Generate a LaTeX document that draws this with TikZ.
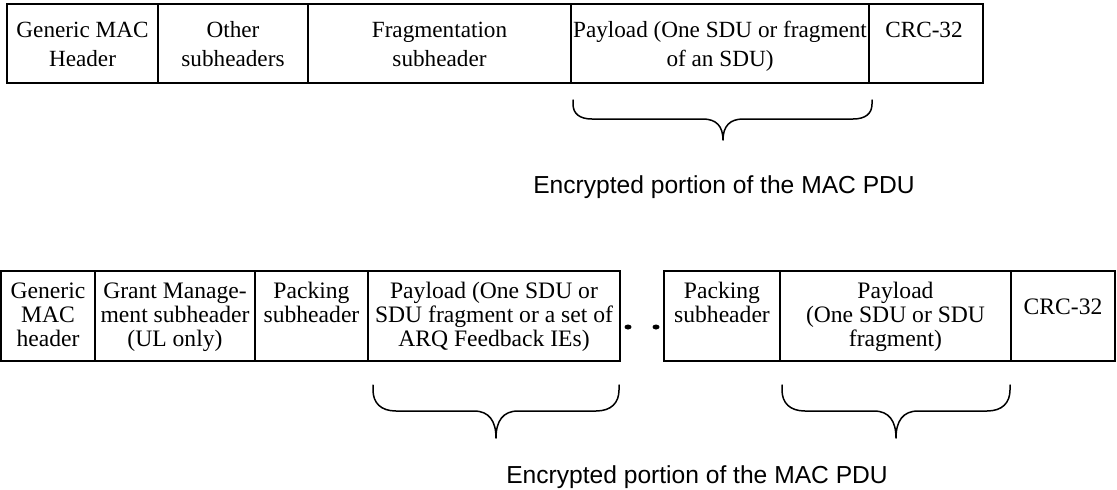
\documentclass[tikz,border=0pt]{standalone}
\usepackage{fontspec}
\setmainfont{Liberation Serif}
\newfontfamily\labelfont{Liberation Sans}
\begin{document}
\begin{tikzpicture}[x=1pt,y=-1pt,
  frame/.style={draw=black,line width=2.2pt},
  divider/.style={draw=black,line width=2pt},
  toptext/.style={anchor=north,inner sep=0pt,align=center,font=\fontsize{23.2}{29}\selectfont},
  bottext/.style={anchor=north,inner sep=0pt,align=center,font=\fontsize{23.6}{24}\selectfont},
  lbl/.style={anchor=base,inner sep=0pt,font=\labelfont\fontsize{24.6}{28}\selectfont},
  bracepath/.style={draw=black,line width=1.5pt,line cap=round,line join=round},
  dotmark/.style={fill=black}]
\useasboundingbox (0,0) rectangle (1117,490);
% ---------- top row ----------
\draw[frame] (7,4) rectangle (983,83);
\foreach \x in {158,308,571,869} \draw[divider] (\x,4) -- (\x,83);
\node[toptext] (t1) at (82.5,17) {\strut Generic MAC\\Header};
\node[toptext] (t2) at (233,17) {\strut Other\\subheaders};
\node[toptext] (t3) at (439.5,17) {\strut Fragmentation\\subheader};
\node[toptext] (t4) at (720,17) {\strut Payload (One SDU or fragment\\of an SDU)};
\node[toptext] (t5) at (924,17) {\strut CRC-32};
\draw[bracepath] (573,100) -- (573,104) .. controls (573,114) and (580,119) .. (592,119)
  -- (703,119) .. controls (716,119) and (723,126) .. (723,140)
  .. controls (723,126) and (730,119) .. (743,119) -- (853,119)
  .. controls (865,119) and (872,114) .. (872,104) -- (872,100);
\node[lbl] (enc1) at (724,193) {Encrypted portion of the MAC PDU};
% ---------- bottom row ----------
\draw[frame] (1,271) rectangle (620,361);
\foreach \x in {95,255,368} \draw[divider] (\x,271) -- (\x,361);
\draw[frame] (664,271) rectangle (1115,361);
\foreach \x in {780,1011} \draw[divider] (\x,271) -- (\x,361);
\node[bottext] (b1) at (48,281) {\strut Generic\\MAC\\header};
\node[bottext] (b2) at (175,281) {\strut Grant Manage-\\ment subheader\\(UL only)};
\node[bottext] (b3) at (311.5,281) {\strut Packing\\subheader};
\node[bottext] (b4) at (494,281) {\strut Payload (One SDU or\\SDU fragment or a set of\\ARQ Feedback IEs)};
\node[bottext] (b5) at (722,281) {\strut Packing\\subheader};
\node[bottext] (b6) at (895.5,281) {\strut Payload\\(One SDU or SDU\\fragment)};
\node[anchor=base,inner sep=0pt,font=\fontsize{23.6}{24}\selectfont] (b7) at (1063,314) {CRC-32};
\fill[dotmark] (628,327) ellipse (3.5 and 2.5);
\fill[dotmark] (656,327) ellipse (3.5 and 2.5);
\draw[bracepath] (373,385) -- (373,390) .. controls (373,403) and (381,411) .. (396,411)
  -- (474,411) .. controls (489,411) and (496,421) .. (496,438)
  .. controls (496,421) and (503,411) .. (518,411) -- (596,411)
  .. controls (611,411) and (619,403) .. (619,390) -- (619,385);
\draw[bracepath] (782,385) -- (782,390) .. controls (782,403) and (790,411) .. (805,411)
  -- (874,411) .. controls (889,411) and (896,421) .. (896,438)
  .. controls (896,421) and (903,411) .. (918,411) -- (987,411)
  .. controls (1002,411) and (1010,403) .. (1010,390) -- (1010,385);
\node[lbl] (enc2) at (697,483) {Encrypted portion of the MAC PDU};
\end{tikzpicture}
\end{document}
